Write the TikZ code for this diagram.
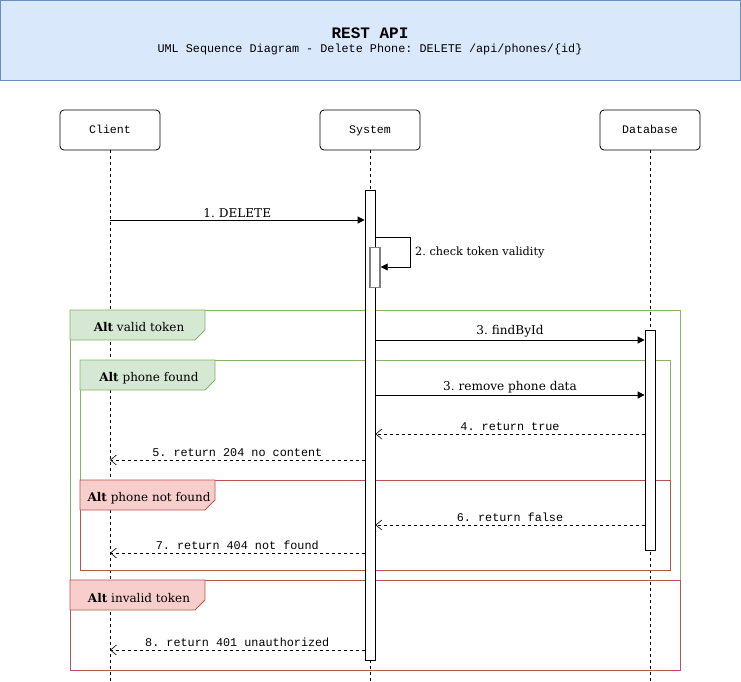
\documentclass[tikz,border=0pt]{standalone}
\usepackage{fontspec}
\setmainfont{DejaVu Serif}
\newfontfamily\monofam{Liberation Mono}
\usetikzlibrary{arrows.meta}
\frenchspacing
\definecolor{titlefill}{HTML}{DAE8FC}
\definecolor{titledraw}{HTML}{6C8EBF}
\definecolor{grfill}{HTML}{D5E8D4}
\definecolor{grdraw}{HTML}{82B366}
\definecolor{rdfill}{HTML}{F8CECC}
\definecolor{rddraw}{HTML}{B85450}
\tikzset{
  head/.style={draw, rounded corners=4pt, minimum width=100pt, minimum height=40pt, fill=white, font=\monofam\fontsize{11.6}{13}\selectfont, text height=8pt, text depth=2pt, line width=0.8pt},
  lifeline/.style={dash pattern=on 3pt off 3pt, line width=0.8pt},
  act/.style={draw, fill=white, line width=0.8pt, minimum width=10pt, inner sep=0pt},
  syncmsg/.style={-{Triangle[length=7pt,width=7pt]}, line width=0.8pt},
  retmsg/.style={-{Straight Barb[length=6pt,width=10pt,line width=0.6pt]}, dash pattern=on 3pt off 3pt, line width=0.8pt},
  serlab/.style={font=\fontsize{12.1}{14}\selectfont, inner sep=0pt, above=2pt},
  monolab/.style={font=\monofam\fontsize{11.8}{13}\selectfont, inner sep=0pt, above=3pt},
  grframe/.style={draw=grdraw, line width=0.8pt},
  rdframe/.style={draw=rddraw, line width=0.8pt},
  tablab/.style={font=\fontsize{12}{14}\selectfont, inner sep=0pt}
}
\begin{document}
\begin{tikzpicture}[x=1pt,y=-1pt]
\useasboundingbox (0,0) rectangle (741,681);
% title
\node[draw=titledraw, fill=titlefill, line width=0.8pt, minimum width=740pt, minimum height=80pt, anchor=north west, inner sep=0pt] (title) at (0.4,0.4) {};
\node[font=\monofam\bfseries\fontsize{16}{18}\selectfont] (ttl) at (370,33) {REST API};
\node[font=\monofam\fontsize{11.8}{13}\selectfont] (sub) at (370,49) {UML Sequence Diagram - Delete Phone: DELETE /api/phones/\{id\}};
% lifeline heads
\node[head] (client) at (110,130) {Client};
\node[head] (system) at (370,130) {System};
\node[head] (database) at (650,130) {Database};
\coordinate (clientend) at (110,681);
\coordinate (systemend) at (370,681);
\coordinate (databaseend) at (650,681);
\draw[lifeline] (client.south) -- (clientend);
\draw[lifeline] (system.south) -- (systemend);
\draw[lifeline] (database.south) -- (databaseend);
% frames
\draw[grframe] (70,310) rectangle (680,580);
\draw[grframe, fill=grfill] (70,310) -- (205,310) -- (205,330) -- (195,340) -- (70,340) -- cycle;
\node[tablab] (f1) at (139,327) {\textbf{Alt} valid token};
\draw[grframe] (80,360) rectangle (670,570);
\draw[grframe, fill=grfill] (80,360) -- (215,360) -- (215,380) -- (205,390) -- (80,390) -- cycle;
\node[tablab] (f2) at (149,378) {\textbf{Alt} phone found};
\draw[rdframe] (80,480) rectangle (670,570);
\draw[rdframe, fill=rdfill] (80,480) -- (215,480) -- (215,500) -- (205,510) -- (80,510) -- cycle;
\node[tablab] (f3) at (149,498) {\textbf{Alt} phone not found};
\draw[rdframe] (70,580) rectangle (680,670);
\draw[rdframe, fill=rdfill] (70,580) -- (205,580) -- (205,600) -- (195,610) -- (70,610) -- cycle;
\node[tablab] (f4) at (139,598) {\textbf{Alt} invalid token};
% activations
\node[act, minimum height=470pt, anchor=north] (sysact) at (370,190) {};
\node[act, draw=black!50, line width=1.4pt, minimum height=40pt, anchor=north] (sysact2) at (375,247) {};
\node[act, minimum height=220pt, anchor=north] (dbact) at (650,330) {};
% messages
\draw[syncmsg] (110,220) -- node[serlab] (m1) {1. DELETE} (sysact.west |- 0,220);
\coordinate (s1) at (sysact.east |- 0,237);
\coordinate (s2) at (410,237);
\coordinate (s3) at (410,267);
\draw[syncmsg] (s1) -- (s2) -- (s3) -- (sysact2.east |- s3);
\node[font=\fontsize{11.3}{13}\selectfont, anchor=west, inner sep=0pt] (m2) at (415,252) {2. check token validity};
\draw[syncmsg] (sysact.east |- 0,340) -- node[serlab] (m3) {3. findById} (dbact.west |- 0,340);
\draw[syncmsg] (sysact.east |- 0,395) -- node[serlab] (m3b) {3. remove phone data} (dbact.west |- 0,395);
\draw[retmsg] (dbact.west |- 0,434) -- node[monolab] (m4) {4. return true} (sysact.east |- 0,434);
\draw[retmsg] (sysact.west |- 0,460) -- node[monolab] (m5) {5. return 204 no content} (client.south |- 0,460);
\draw[retmsg] (dbact.west |- 0,525) -- node[monolab] (m6) {6. return false} (sysact.east |- 0,525);
\draw[retmsg] (sysact.west |- 0,553) -- node[monolab] (m7) {7. return 404 not found} (client.south |- 0,553);
\draw[retmsg] (sysact.west |- 0,650) -- node[monolab] (m8) {8. return 401 unauthorized} (client.south |- 0,650);
\end{tikzpicture}
\end{document}
